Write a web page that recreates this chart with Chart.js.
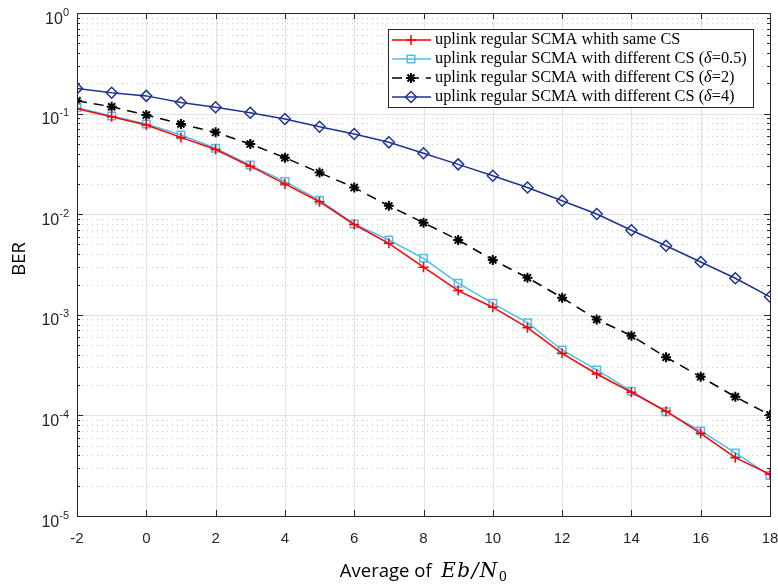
<!DOCTYPE html>
<html>
<head>
<meta charset="utf-8">
<script src="https://cdn.jsdelivr.net/npm/chart.js@4.4.1/dist/chart.umd.min.js"></script>
<style>
  html, body { margin: 0; padding: 0; background: #fff; }
  #wrap { width: 778px; height: 585px; }
</style>
</head>
<body>
<div id="wrap"><canvas id="berChart" width="778" height="585"></canvas></div>
<script>
// Eb/N0 (dB) en el eje x
const snrDb = [-2, -1, 0, 1, 2, 3, 4, 5, 6, 7, 8, 9, 10, 11, 12, 13, 14, 15, 16, 17, 18];

// BER
const berSameCs = [0.112, 0.093, 0.077, 0.058, 0.044, 0.030, 0.020, 0.0133, 0.0079, 0.00513,
    0.00297, 0.00174, 0.00119, 0.000745, 0.000414, 0.000258, 0.000170, 0.000110, 0.0000664, 0.000038, 0.0000260];
const berDelta05 = [0.1145, 0.0947, 0.0788, 0.0612, 0.0452, 0.0308, 0.0211, 0.0138, 0.0080, 0.00554,
    0.00364, 0.00206, 0.00130, 0.000835, 0.000447, 0.000283, 0.000174, 0.000109, 0.000070, 0.0000424, 0.0000252];
const berDelta2 = [0.134, 0.117, 0.0969, 0.0788, 0.0651, 0.0499, 0.0365, 0.0259, 0.0184, 0.0121,
    0.00824, 0.00554, 0.00351, 0.00234, 0.00148, 0.00090, 0.00062, 0.000378, 0.000242, 0.000153, 0.000101];
const berDelta4 = [0.178, 0.161, 0.150, 0.129, 0.1155, 0.102, 0.0884, 0.0741, 0.0627, 0.0518,
    0.0403, 0.0313, 0.0241, 0.0184, 0.0136, 0.01005, 0.00692, 0.00486, 0.00335, 0.00231, 0.00151];

const legendLabels = [
    'uplink regular SCMA whith same CS',
    'uplink regular SCMA with different CS (δ=0.5)',
    'uplink regular SCMA with different CS (δ=2)',
    'uplink regular SCMA with different CS (δ=4)'
];

const xTicks = [-2, 0, 2, 4, 6, 8, 10, 12, 14, 16, 18];
const yExponents = [0, -1, -2, -3, -4, -5];

const AXIS = '#262626';
const sansFont = '"Liberation Sans", Arial, sans-serif';

function puntos(arr) {
    return snrDb.map((x, i) => ({ x: x, y: arr[i] }));
}

// Rejilla estilo MATLAB: menor punteada, mayor sólida
const rejillaPlugin = {
    id: 'rejilla',
    beforeDatasetsDraw(chart) {
        const { ctx, chartArea: a, scales: { x, y } } = chart;
        ctx.save();
        ctx.lineWidth = 1;
        ctx.strokeStyle = '#c8c8c8';
        ctx.setLineDash([1, 4]);
        for (let i = 1; i < yExponents.length; i++) {
            const e = yExponents[i];
            for (let m = 2; m <= 9; m++) {
                const py = Math.round(y.getPixelForValue(m * Math.pow(10, e))) + 0.5;
                ctx.beginPath(); ctx.moveTo(a.left, py); ctx.lineTo(a.right, py); ctx.stroke();
            }
        }
        ctx.setLineDash([]);
        ctx.strokeStyle = '#e2e2e2';
        xTicks.forEach(v => {
            const px = Math.round(x.getPixelForValue(v)) + 0.5;
            ctx.beginPath(); ctx.moveTo(px, a.top); ctx.lineTo(px, a.bottom); ctx.stroke();
        });
        yExponents.forEach(e => {
            const py = Math.round(y.getPixelForValue(Math.pow(10, e))) + 0.5;
            ctx.beginPath(); ctx.moveTo(a.left, py); ctx.lineTo(a.right, py); ctx.stroke();
        });
        ctx.restore();
    }
};

function dibujarLeyenda(chart) {
    const { ctx, chartArea: a } = chart;
    const bx = a.left + 311, by = a.top + 16, bw = 365, bh = 78;
    ctx.save();
    ctx.fillStyle = '#fff';
    ctx.fillRect(bx, by, bw, bh);
    ctx.strokeStyle = AXIS;
    ctx.lineWidth = 1;
    ctx.strokeRect(bx + 0.5, by + 0.5, bw, bh);

    // ajustar el tamaño de letra al ancho del texto más largo
    let size = 15;
    ctx.font = size + 'px "Liberation Serif", serif';
    const ancho = ctx.measureText(legendLabels[1]).width;
    size = size * 312 / ancho;

    chart.data.datasets.forEach((ds, i) => {
        const cy = by + 11 + i * 19;
        ctx.strokeStyle = ds.borderColor;
        ctx.lineWidth = ds.borderWidth;
        ctx.setLineDash(ds.borderDash || []);
        ctx.beginPath(); ctx.moveTo(bx + 4, cy); ctx.lineTo(bx + 43, cy); ctx.stroke();
        ctx.setLineDash([]);
        ctx.strokeStyle = ds.pointBorderColor;
        ctx.fillStyle = 'rgba(0,0,0,0)';
        ctx.lineWidth = ds.pointBorderWidth;
        Chart.helpers.drawPoint(ctx, { pointStyle: ds.pointStyle, radius: ds.pointRadius, rotation: 0, borderWidth: ds.pointBorderWidth }, bx + 23, cy);

        // texto con δ en cursiva
        ctx.fillStyle = '#000';
        ctx.textBaseline = 'middle';
        ctx.textAlign = 'left';
        let tx = bx + 47;
        const partes = legendLabels[i].split('δ');
        partes.forEach((p, j) => {
            ctx.font = size + 'px "Liberation Serif", serif';
            ctx.fillText(p, tx, cy);
            tx += ctx.measureText(p).width;
            if (j < partes.length - 1) {
                ctx.font = 'italic ' + size + 'px "Liberation Serif", serif';
                ctx.fillText('δ', tx, cy);
                tx += ctx.measureText('δ').width;
            }
        });
    });
    ctx.restore();
}

// Marco, marcas de graduación, etiquetas del eje y, títulos y leyenda
const marcoPlugin = {
    id: 'marco',
    afterDatasetsDraw(chart) {
        const { ctx, chartArea: a, scales: { x, y } } = chart;
        ctx.save();
        ctx.strokeStyle = AXIS;
        ctx.lineWidth = 1;
        ctx.strokeRect(Math.round(a.left) + 0.5, Math.round(a.top) + 0.5,
            Math.round(a.right - a.left), Math.round(a.bottom - a.top));

        ctx.beginPath();
        xTicks.forEach(v => {
            const px = Math.round(x.getPixelForValue(v)) + 0.5;
            ctx.moveTo(px, a.bottom); ctx.lineTo(px, a.bottom - 6);
            ctx.moveTo(px, a.top); ctx.lineTo(px, a.top + 6);
        });
        yExponents.forEach((e, i) => {
            const py0 = Math.round(y.getPixelForValue(Math.pow(10, e))) + 0.5;
            ctx.moveTo(a.left, py0); ctx.lineTo(a.left + 6, py0);
            ctx.moveTo(a.right, py0); ctx.lineTo(a.right - 6, py0);
            if (i === 0) return;
            for (let m = 2; m <= 9; m++) {
                const py = Math.round(y.getPixelForValue(m * Math.pow(10, e))) + 0.5;
                ctx.moveTo(a.left, py); ctx.lineTo(a.left + 3, py);
                ctx.moveTo(a.right, py); ctx.lineTo(a.right - 3, py);
            }
        });
        ctx.stroke();

        // etiquetas 10^n
        ctx.fillStyle = AXIS;
        ctx.textBaseline = 'alphabetic';
        ctx.textAlign = 'left';
        yExponents.forEach(e => {
            const py = y.getPixelForValue(Math.pow(10, e));
            const exp = String(e);
            ctx.font = '11px ' + sansFont;
            const we = ctx.measureText(exp).width;
            ctx.font = '16px ' + sansFont;
            const wb = ctx.measureText('10').width;
            const right = a.left - 8;
            ctx.fillText('10', right - we - wb, py + 10.5);
            ctx.font = '11px ' + sansFont;
            ctx.fillText(exp, right - we, py + 2.5);
        });

        // título eje y
        ctx.save();
        ctx.translate(20, 259);
        ctx.rotate(-Math.PI / 2);
        ctx.textAlign = 'center';
        ctx.textBaseline = 'middle';
        ctx.fillStyle = '#000';
        ctx.font = '18.5px "Open Sans", sans-serif';
        ctx.fillText('BER', 0, 0);
        ctx.restore();

        // título eje x: Average of Eb/N0
        ctx.fillStyle = '#000';
        ctx.textBaseline = 'alphabetic';
        ctx.textAlign = 'left';
        const base = 577;
        const t1 = 'Average of  ';
        const t2 = 'Eb/N';
        const esp = 1.5;
        ctx.font = '18.5px "Open Sans", sans-serif';
        const w1 = ctx.measureText(t1).width;
        ctx.font = 'italic 20px "DejaVu Serif", serif';
        let w2 = 0;
        for (const c of t2) w2 += ctx.measureText(c).width + esp;
        ctx.font = '13px "DejaVu Serif", serif';
        const w3 = ctx.measureText('0').width;
        let tx = (a.left + a.right) / 2 - (w1 + w2 + w3) / 2;
        ctx.font = '18.5px "Open Sans", sans-serif';
        ctx.fillText(t1, tx, base);
        tx += w1;
        ctx.font = 'italic 20px "DejaVu Serif", serif';
        for (const c of t2) {
            ctx.fillText(c, tx, base);
            tx += ctx.measureText(c).width + esp;
        }
        ctx.font = '13px "DejaVu Serif", serif';
        ctx.fillText('0', tx, base + 4);

        ctx.restore();
        dibujarLeyenda(chart);
    }
};

function inicializarGrafico() {
    const ctx = document.getElementById('berChart').getContext('2d');
    new Chart(ctx, {
        type: 'line',
        data: {
            datasets: [
                {
                    label: legendLabels[0],
                    data: puntos(berSameCs),
                    borderColor: '#ff0000',
                    borderWidth: 1.5,
                    pointStyle: 'cross',
                    pointRadius: 5,
                    pointBorderWidth: 1.5,
                    pointBorderColor: '#ff0000',
                    pointBackgroundColor: 'rgba(0,0,0,0)'
                },
                {
                    label: legendLabels[1],
                    data: puntos(berDelta05),
                    borderColor: '#4dbeee',
                    borderWidth: 1.5,
                    pointStyle: 'rect',
                    pointRadius: 5.3,
                    pointBorderWidth: 1.5,
                    pointBorderColor: '#4dbeee',
                    pointBackgroundColor: 'rgba(0,0,0,0)'
                },
                {
                    label: legendLabels[2],
                    data: puntos(berDelta2),
                    borderColor: '#000000',
                    borderWidth: 1.5,
                    borderDash: [10, 7],
                    pointStyle: 'star',
                    pointRadius: 5,
                    pointBorderWidth: 2,
                    pointBorderColor: '#000000',
                    pointBackgroundColor: 'rgba(0,0,0,0)'
                },
                {
                    label: legendLabels[3],
                    data: puntos(berDelta4),
                    borderColor: '#1f3391',
                    borderWidth: 1.5,
                    pointStyle: 'rectRot',
                    pointRadius: 5.5,
                    pointBorderWidth: 1.5,
                    pointBorderColor: '#1f3391',
                    pointBackgroundColor: 'rgba(0,0,0,0)'
                }
            ]
        },
        options: {
            responsive: false,
            animation: false,
            layout: { padding: { top: 13, right: 8, left: 0, bottom: 0 } },
            plugins: {
                legend: { display: false },
                tooltip: { enabled: false }
            },
            scales: {
                x: {
                    type: 'linear',
                    min: -2,
                    max: 18,
                    grid: { display: false },
                    border: { display: false },
                    ticks: {
                        stepSize: 2,
                        color: AXIS,
                        padding: 6,
                        maxRotation: 0,
                        font: { family: sansFont, size: 15 }
                    },
                    afterFit: s => { s.height = 69; s.paddingLeft = 0; s.paddingRight = 0; }
                },
                y: {
                    type: 'logarithmic',
                    min: 1e-5,
                    max: 1,
                    grid: { display: false },
                    border: { display: false },
                    ticks: { display: false },
                    afterFit: s => { s.width = 77; }
                }
            }
        },
        plugins: [rejillaPlugin, marcoPlugin]
    });
}

document.addEventListener('DOMContentLoaded', function() {
    inicializarGrafico();
});
</script>
</body>
</html>
